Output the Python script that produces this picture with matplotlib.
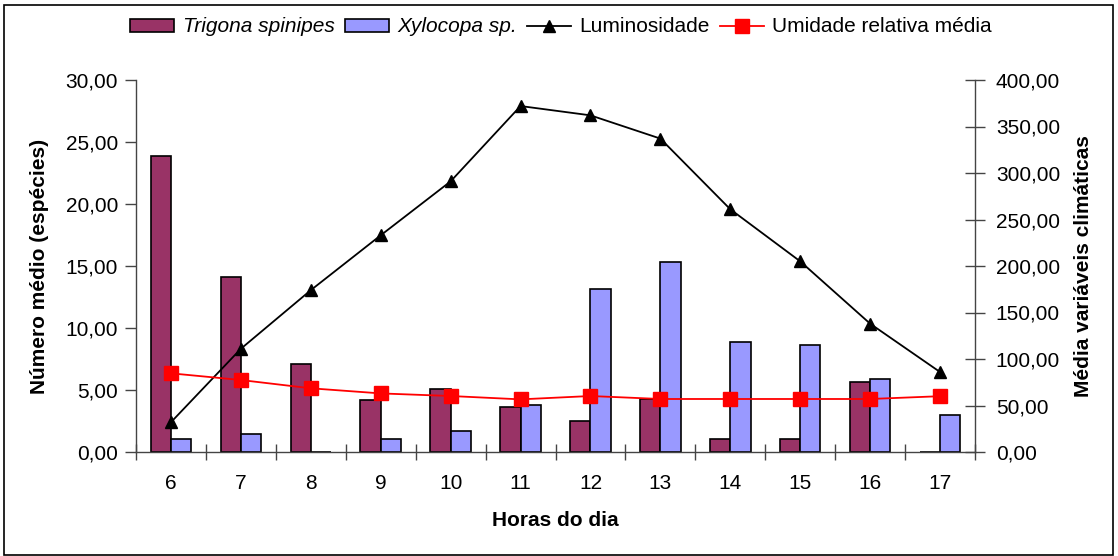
"""
Numero medio de especies por hora do dia, com variaveis climaticas no eixo secundario.
"""

import numpy as np
import matplotlib
matplotlib.use('Agg')
import matplotlib.pyplot as plt
from matplotlib.ticker import FuncFormatter
from matplotlib.patches import Rectangle

plt.rcParams['font.family'] = ['Liberation Sans', 'DejaVu Sans']

# data
horas = ['6', '7', '8', '9', '10', '11', '12', '13', '14', '15', '16', '17']
trigona = [23.9, 14.1, 7.07, 4.2, 5.1, 3.65, 2.5, 4.27, 1.05, 1.05, 5.62, 0.0]
xylocopa = [1.05, 1.43, 0.0, 1.05, 1.72, 3.79, 13.17, 15.3, 8.87, 8.63, 5.89, 3.0]
luminosidade = [32, 111, 174, 233, 291, 372, 362, 337, 261, 205, 138, 86]
umidade = [84.6, 77.4, 68.5, 63.0, 60.2, 56.6, 60.2, 57.0, 57.0, 57.0, 57.0, 60.0]

def virgula(v, pos):
    return ('%.2f' % v).replace('.', ',')

fs = 15

fig = plt.figure(figsize=(11.18, 5.56), dpi=100)
ax = fig.add_axes([136/1118, 1-452/556, (975-136)/1118, (452-80)/556])
ax2 = ax.twinx()

x = np.arange(len(horas))
w = 0.29
b1 = ax.bar(x - w/2, trigona, w, color='#993366', edgecolor='black', linewidth=1.2,
            label='Trigona spinipes')
b2 = ax.bar(x + w/2, xylocopa, w, color='#9999FF', edgecolor='black', linewidth=1.2,
            label='Xylocopa sp.')

l1, = ax2.plot(x, luminosidade, color='black', linewidth=1.3, marker='^', markersize=8,
               label='Luminosidade')
l2, = ax2.plot(x, umidade, color='#FF0000', linewidth=1.3, marker='s', markersize=10,
               label='Umidade relativa média')

ax.set_xlim(-0.5, len(horas) - 0.5)
ax.set_ylim(0, 30)
ax2.set_ylim(0, 400)
ax.set_yticks(np.arange(0, 31, 5))
ax2.set_yticks(np.arange(0, 401, 50))
ax.yaxis.set_major_formatter(FuncFormatter(virgula))
ax2.yaxis.set_major_formatter(FuncFormatter(virgula))

# ticks at category borders, labels at centres
ax.set_xticks(np.arange(-0.5, len(horas), 1.0))
ax.set_xticklabels([])
ax.set_xticks(x, minor=True)
ax.set_xticklabels(horas, minor=True)
ax.tick_params(axis='x', which='minor', length=0, pad=16, labelsize=fs)
ax.tick_params(axis='x', which='major', direction='inout', length=12, width=1, color='#444444')
ax.tick_params(axis='y', direction='out', length=8, width=1, color='#444444', labelsize=fs, pad=5)
ax2.tick_params(axis='y', direction='inout', length=14, width=1, color='#444444', labelsize=fs, pad=8)

for a in (ax, ax2):
    a.spines['top'].set_visible(False)
    for s in ('left', 'right', 'bottom'):
        a.spines[s].set_color('#444444')
        a.spines[s].set_linewidth(1)
ax.spines['right'].set_visible(False)
ax2.spines['left'].set_visible(False)
ax2.spines['bottom'].set_visible(False)

ax.set_ylabel('Número médio (espécies)', fontsize=fs, fontweight='bold', labelpad=12)
ax2.set_ylabel('Média variáveis climáticas', fontsize=fs, fontweight='bold', labelpad=10)
fig.text(555/1118, 1-520/556, 'Horas do dia', fontsize=fs, fontweight='bold',
         ha='center', va='center')

leg = fig.legend([b1, b2, l1, l2],
                 ['Trigona spinipes', 'Xylocopa sp.', 'Luminosidade', 'Umidade relativa média'],
                 loc='center', bbox_to_anchor=(561/1118, 1-27/556), ncol=4, frameon=False,
                 fontsize=fs, handlelength=2.1, handleheight=0.6, handletextpad=0.4,
                 columnspacing=0.5)
for t in leg.get_texts()[:2]:
    t.set_style('italic')

fig.patches.append(Rectangle((4/1118, 1/556), 1109/1118, 550/556, transform=fig.transFigure,
                             fill=False, edgecolor='black', linewidth=1.2))

fig.savefig('out.png', dpi=100)
